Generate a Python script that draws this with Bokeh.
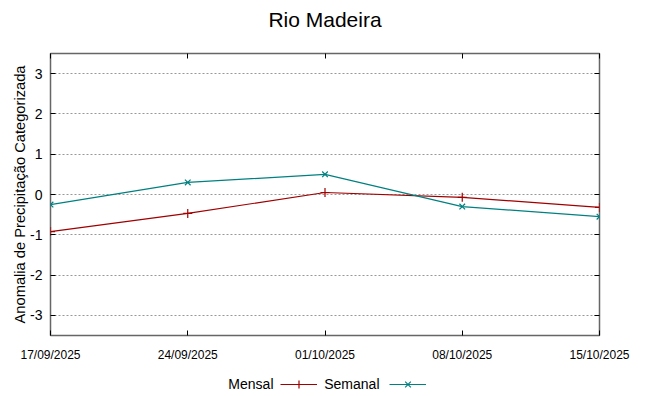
import pandas as pd
from bokeh.plotting import figure
from bokeh.layouts import column
from bokeh.models import (LinearAxis, DatetimeAxis, FixedTicker, DatetimeTickFormatter,
                          Range1d, Legend, LegendItem, Label)
from bokeh.embed import file_html
from bokeh.resources import INLINE

title_text = "Rio Madeira"
y_label = "Anomalia de Precipitação Categorizada"
dates = ["2025-09-17", "2025-09-24", "2025-10-01", "2025-10-08", "2025-10-15"]
mensal = [-0.92, -0.47, 0.05, -0.07, -0.32]
semanal = [-0.25, 0.30, 0.50, -0.30, -0.55]
y_ticks = [-3, -2, -1, 0, 1, 2, 3]
series_names = ["Mensal", "Semanal"]

x = pd.to_datetime(dates)
x_ms = [int(d.value // 10**6) for d in x]

RED = "#a00000"
TEAL = "#008080"
SANS = "Liberation Sans"
FRAME_W = 549


def blank(fig):
    fig.outline_line_color = None
    fig.grid.grid_line_color = None
    fig.background_fill_color = "white"
    fig.border_fill_color = "white"


# ---- title strip ----
tf = figure(width=648, height=38, output_backend="svg", toolbar_location=None,
            x_range=Range1d(0, 1), y_range=Range1d(0, 1),
            x_axis_location=None, y_axis_location=None,
            min_border_left=0, min_border_right=0, min_border_top=0, min_border_bottom=0)
blank(tf)
tf.add_layout(Label(x=FRAME_W / 2, y=19, x_units="screen", y_units="screen", text=title_text,
                    text_align="center", text_baseline="middle", text_font=SANS,
                    text_font_size="21px", text_color="#000000"))

# ---- main plot ----
p = figure(width=648, height=326, output_backend="svg", toolbar_location=None,
           x_axis_type="datetime",
           x_range=Range1d(x_ms[0], x_ms[-1]), y_range=Range1d(-3.5, 3.5),
           min_border_left=50, min_border_right=49, min_border_top=15, min_border_bottom=28)
p.outline_line_color = "#666666"
p.outline_line_width = 1.5
p.background_fill_color = "white"
p.border_fill_color = "white"

fmt = DatetimeTickFormatter(days="%d/%m/%Y", months="%d/%m/%Y", years="%d/%m/%Y",
                            hours="%d/%m/%Y", minutes="%d/%m/%Y", seconds="%d/%m/%Y",
                            milliseconds="%d/%m/%Y", microseconds="%d/%m/%Y")

xa = p.xaxis[0]
xa.ticker = FixedTicker(ticks=x_ms)
xa.formatter = fmt
xa.axis_line_color = None
xa.major_tick_in = 5
xa.major_tick_out = 0
xa.minor_tick_line_color = None
xa.major_tick_line_color = "#000000"
xa.major_label_text_font = SANS
xa.major_label_text_font_size = "12px"
xa.major_label_text_color = "#000000"
xa.major_label_standoff = 12

ya = p.yaxis[0]
ya.ticker = FixedTicker(ticks=y_ticks)
ya.axis_line_color = None
ya.major_tick_in = 5
ya.major_tick_out = 0
ya.minor_tick_line_color = None
ya.major_tick_line_color = "#000000"
ya.major_label_text_font = SANS
ya.major_label_text_font_size = "14px"
ya.major_label_standoff = 8
ya.major_label_text_color = "#000000"
ya.major_label_overrides = {t: str(t) for t in y_ticks}
ya.axis_label = y_label
ya.axis_label_text_font = SANS
ya.axis_label_text_font_size = "14.7px"
ya.axis_label_text_font_style = "normal"
ya.axis_label_standoff = -1
ya.axis_label_text_color = "#000000"

# mirrored ticks (no labels)
ra = LinearAxis(ticker=FixedTicker(ticks=y_ticks), axis_line_color=None,
                major_tick_in=5, major_tick_out=0, minor_tick_line_color=None,
                major_tick_line_color="#000000",
                major_label_text_color=None, major_label_text_font_size="1px",
                major_label_standoff=0)
p.add_layout(ra, "right")
ta = DatetimeAxis(ticker=FixedTicker(ticks=x_ms), formatter=fmt, axis_line_color=None,
                  major_tick_in=5, major_tick_out=0, minor_tick_line_color=None,
                  major_tick_line_color="#000000",
                  major_label_text_color=None, major_label_text_font_size="1px",
                  major_label_standoff=0)
p.add_layout(ta, "above")

p.xgrid.grid_line_color = None
p.ygrid.ticker = FixedTicker(ticks=y_ticks)
p.ygrid.grid_line_color = "#999999"
p.ygrid.grid_line_dash = "2 2"
p.ygrid.grid_line_width = 1

p.line(x, mensal, line_color=RED, line_width=1.2)
p.scatter(x, mensal, marker="cross", size=9, line_color=RED, line_width=1.2)
p.line(x, semanal, line_color=TEAL, line_width=1.2)
p.scatter(x, semanal, marker="x", size=8, line_color=TEAL, line_width=1.2)

# ---- legend strip (label text left of the key, as in the original) ----
lg = figure(width=648, height=32, output_backend="svg", toolbar_location=None,
            x_range=Range1d(0, 1), y_range=Range1d(0, 1),
            x_axis_location=None, y_axis_location=None,
            min_border_left=0, min_border_right=0, min_border_top=0, min_border_bottom=0)
blank(lg)
# key renderers carry the series data, which lies far outside this strip's ranges
k1l = lg.line(x, mensal, line_color=RED, line_width=1.2)
k1s = lg.scatter(x, mensal, marker="cross", size=9, line_color=RED, line_width=1.2)
k2l = lg.line(x, semanal, line_color=TEAL, line_width=1.2)
k2s = lg.scatter(x, semanal, marker="x", size=8, line_color=TEAL, line_width=1.2)

key_x = [230, 339]
text_x = [223, 329]
for name, rends, kx, tx in zip(series_names, [[k1l, k1s], [k2l, k2s]], key_x, text_x):
    lgd = Legend(items=[LegendItem(label=name, renderers=rends)],
                 location=(kx, 2), padding=0, margin=0, glyph_width=37, glyph_height=20,
                 label_width=0, label_standoff=0, label_height=20,
                 label_text_color=None, label_text_font_size="1px",
                 border_line_color=None, background_fill_alpha=0)
    lg.add_layout(lgd, "center")
    lg.add_layout(Label(x=tx, y=13, x_units="screen", y_units="screen", text=name,
                        text_align="right", text_baseline="middle", text_font=SANS,
                        text_font_size="14px", text_color="#000000"))

layout = column(tf, p, lg, spacing=0)
open("out.html", "w").write(file_html(layout, INLINE))
